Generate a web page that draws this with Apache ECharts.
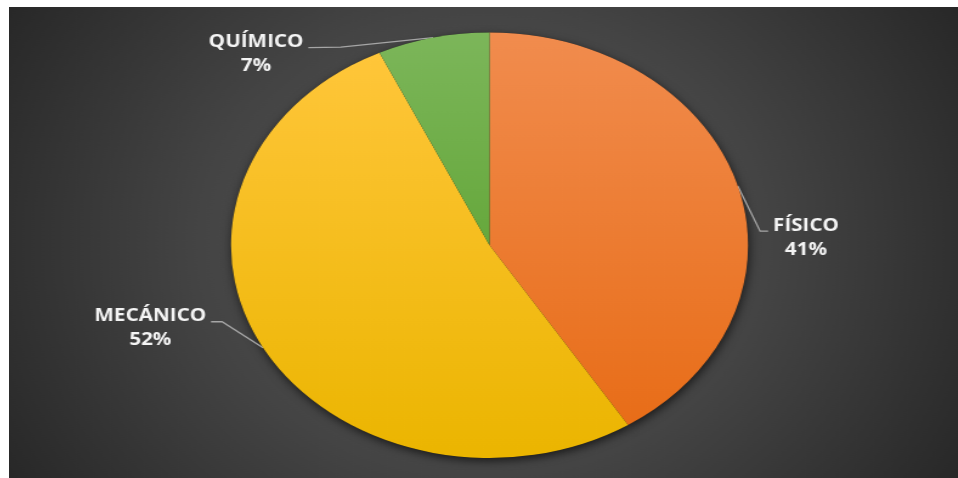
<!DOCTYPE html>
<html>
<head>
<meta charset="utf-8">
<script src="https://cdn.jsdelivr.net/npm/echarts@6/dist/echarts.min.js"></script>
<style>
  html, body { margin: 0; padding: 0; background: #ffffff; overflow: hidden; }
  body { width: 958px; height: 478px; position: relative; }
  /* the chart is drawn in a narrower box and widened, which gives the oval pie */
  #chart {
    position: absolute; left: 9px; top: 7px;
    width: 781px; height: 471px;
    transform: scaleX(1.215); transform-origin: 0 0;
  }
</style>
</head>
<body>
<div id="chart"></div>
<script>
// Share of each type (percent)
const categories = ['FÍSICO', 'MECÁNICO', 'QUÍMICO'];
const shares = [41, 52, 7];

// Fill of each slice: lighter at the top, darker at the bottom
const sliceTop = ['#F18C4E', '#FFC63A', '#7CB65A'];
const sliceBottom = ['#E86D18', '#EBB500', '#66A83C'];

// Leader-line bends, in px from the point where the line leaves the slice
const leaderBends = [
  { p1: [18.4, 45.3], p2: [25, 45.3], side: 1 },
  { p1: [-33.7, -26], p2: [-42.8, -26], side: -1 },
  { p1: [-76, 9.5], p2: [-102.7, 10], side: -1 }
];
const labelGap = 4;

const chart = echarts.init(document.getElementById('chart'), null, { renderer: 'canvas' });

const pieCenter = [395.5, 238.25];
const pieRadius = 212.75;

const sliceData = categories.map((name, i) => ({
  name: name,
  value: shares[i],
  itemStyle: {
    color: {
      type: 'linear', x: 0, y: 0, x2: 0, y2: 1,
      colorStops: [
        { offset: 0, color: sliceTop[i] },
        { offset: 1, color: sliceBottom[i] }
      ]
    }
  }
}));

chart.setOption({
  animation: false,
  backgroundColor: {
    type: 'radial', x: 0.5, y: 0.5, r: 1,
    colorStops: [
      { offset: 0, color: '#5a5a5a' },
      { offset: 0.5, color: '#444444' },
      { offset: 1, color: '#262626' }
    ]
  },
  series: [
    {
      // soft drop shadow under the whole pie
      type: 'pie',
      silent: true,
      z: 1,
      center: pieCenter,
      radius: pieRadius,
      startAngle: 90,
      label: { show: false },
      labelLine: { show: false },
      itemStyle: {
        color: 'rgba(20,20,20,0.9)',
        shadowBlur: 9,
        shadowOffsetX: 1,
        shadowOffsetY: 3,
        shadowColor: 'rgba(0,0,0,0.7)'
      },
      data: categories.map((name, i) => ({ name: name, value: shares[i] }))
    },
    {
      type: 'pie',
      z: 2,
      center: pieCenter,
      radius: pieRadius,
      startAngle: 90,
      clockwise: true,
      avoidLabelOverlap: false,
      itemStyle: { borderWidth: 0 },
      label: {
        show: true,
        position: 'outside',
        formatter: p => '{n|' + p.name + '}\n{n|' + Math.round(p.percent) + '%}',
        rich: {
          n: {
            fontFamily: 'Open Sans',
            fontWeight: 'bold',
            fontSize: 17,
            lineHeight: 24,
            color: '#f4f4f4'
          }
        }
      },
      labelLine: {
        show: true,
        length: 20,
        length2: 10,
        lineStyle: { color: '#a6a6a6', width: 1.3 }
      },
      labelLayout: function (params) {
        const pts = params.labelLinePoints;
        const bend = leaderBends[params.dataIndex];
        if (!pts || !bend) return {};
        const p0 = pts[0];
        const p1 = [p0[0] + bend.p1[0], p0[1] + bend.p1[1]];
        const p2 = [p0[0] + bend.p2[0], p0[1] + bend.p2[1]];
        const w = params.labelRect.width;
        return {
          x: p2[0] + bend.side * (labelGap + w / 2),
          y: p2[1] + 6.5,
          align: 'center',
          verticalAlign: 'middle',
          labelLinePoints: [p0, p1, p2]
        };
      },
      data: sliceData
    }
  ]
});
</script>
</body>
</html>
